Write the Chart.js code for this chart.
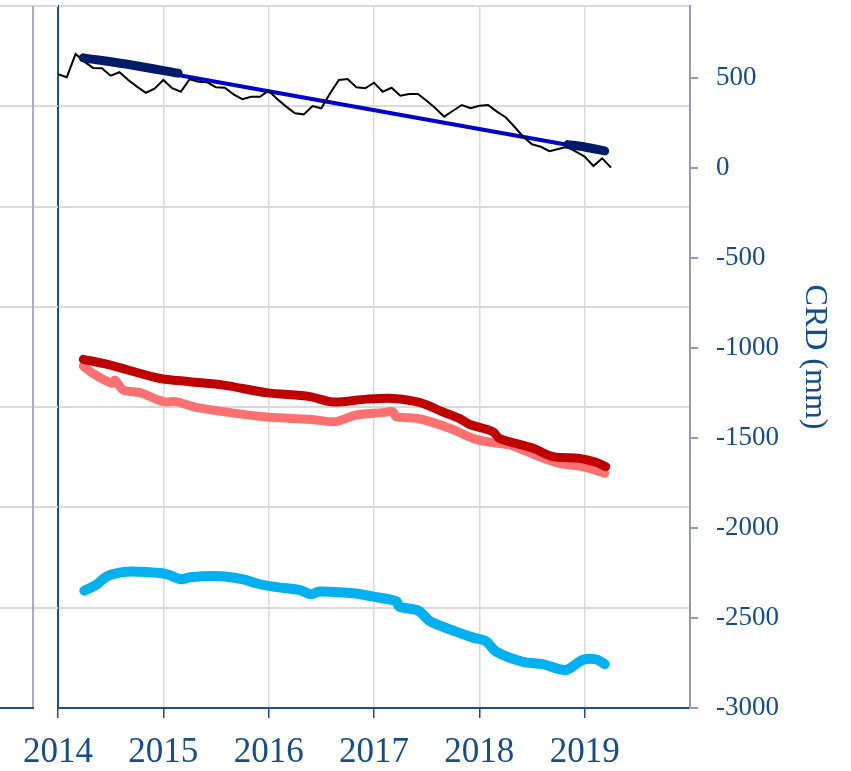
<!DOCTYPE html>
<html>
<head>
<meta charset="utf-8">
<script src="https://cdn.jsdelivr.net/npm/chart.js@4.4.1/dist/chart.umd.min.js"></script>
<style>
    html, body { margin: 0; padding: 0; background: #ffffff; }
    #wrap { width: 851px; height: 771px; }
</style>
</head>
<body>
<div id="wrap"><canvas id="crdChart" width="851" height="771"></canvas></div>
<script>
// ============================================
// CRD CHART DATA
// ============================================

// monthly series, first value = January 2014
const monthlyStart = 2014;
const monthlyValues = [521, 504, 633, 591, 556, 554, 513, 532, 489, 452,
    418, 441, 489, 443, 424, 493, 479, 476, 448, 446,
    409, 382, 396, 396, 429, 382, 341, 304, 298, 344,
    332, 415, 489, 494, 448, 443, 474, 424, 446, 402,
    411, 411, 374, 332, 285, 318, 350, 332, 346, 350,
    313, 282, 229, 174, 132, 118, 93, 106, 118, 91,
    63, 11, 54, 2];

// linear trend
const trendYears = [2014.24, 2019.19];
const trendValues = [611, 92];

// measured segments on the trend
const navyStartYears = [2014.24, 2014.7, 2015.14];
const navyStartValues = [612, 572, 527];
const navyEndYears = [2018.84, 2019.0, 2019.19];
const navyEndValues = [130, 117, 95];

const darkRedYears = [2014.24, 2014.49, 2014.96, 2015.25, 2015.57, 2015.98, 2016.39, 2016.61, 2016.93,
    2017.18, 2017.43, 2017.65, 2017.81, 2017.91, 2018.13, 2018.19, 2018.51, 2018.70, 2018.95, 2019.11, 2019.20];
const darkRedValues = [-1063, -1094, -1168, -1187, -1206, -1248, -1270, -1300, -1284,
    -1280, -1302, -1354, -1391, -1425, -1465, -1502, -1557, -1604, -1613, -1635, -1659];

const lightRedYears = [2014.24, 2014.33, 2014.51, 2014.54, 2014.62, 2014.78, 2015.00, 2015.12, 2015.31,
    2015.69, 2016.01, 2016.39, 2016.63, 2016.83, 2017.08, 2017.18, 2017.21, 2017.43, 2017.72,
    2017.94, 2018.13, 2018.29, 2018.57, 2018.76, 2018.98, 2019.19];
const lightRedValues = [-1100, -1141, -1196, -1178, -1233, -1248, -1298, -1298, -1330,
    -1363, -1385, -1396, -1409, -1372, -1359, -1354, -1381, -1393, -1446,
    -1502, -1526, -1539, -1604, -1641, -1659, -1696];

const lightBlueYears = [2014.25, 2014.36, 2014.47, 2014.65, 2014.87, 2015.03, 2015.17, 2015.25, 2015.50,
    2015.76, 2015.88, 2016.04, 2016.29, 2016.40, 2016.48, 2016.80, 2016.98, 2017.21, 2017.24,
    2017.42, 2017.53, 2017.78, 2017.94, 2018.06, 2018.16, 2018.41, 2018.60, 2018.82, 2018.98,
    2019.11, 2019.19];
const lightBlueValues = [-2348, -2317, -2267, -2243, -2246, -2256, -2285, -2274, -2267,
    -2285, -2307, -2326, -2344, -2368, -2353, -2363, -2380, -2406, -2437,
    -2459, -2517, -2576, -2609, -2628, -2687, -2743, -2756, -2789, -2733,
    -2730, -2756];

// axis ticks
const yearTicks = [2014, 2015, 2016, 2017, 2018, 2019];
const crdTicks = [-3000, -2500, -2000, -1500, -1000, -500, 0, 500];
const crdMin = -3000;
const crdMax = 900;
const gridRows = [0, 1, 2, 3, 4, 5, 6, 7];

const TEXT_BLUE = '#134d8b';
const AXIS_BLUE = '#1f4e8c';
const AXIS_GREY = '#8f9cbc';
const GRID_GREY = '#dadada';

function toPoints(xs, ys) {
    return xs.map((x, i) => ({ x: x, y: ys[i] }));
}

const monthlyPoints = monthlyValues.map((v, i) => ({ x: monthlyStart + i / 12, y: v }));

/**
 * Left panel fragment (cut off in the original figure)
 */
const leftFragment = {
    id: 'leftFragment',
    beforeDatasetsDraw(chart) {
        const ctx = chart.ctx;
        const area = chart.chartArea;
        const yL = chart.scales.yL;
        ctx.save();
        ctx.strokeStyle = GRID_GREY;
        ctx.lineWidth = 2;
        yL.ticks.forEach(t => {
            if (t.value === 0) return;
            const py = Math.round(yL.getPixelForValue(t.value));
            ctx.beginPath();
            ctx.moveTo(0, py);
            ctx.lineTo(area.left, py);
            ctx.stroke();
        });
        ctx.strokeStyle = '#a3aecb';
        ctx.beginPath();
        ctx.moveTo(33, area.top);
        ctx.lineTo(33, area.bottom);
        ctx.stroke();
        ctx.strokeStyle = AXIS_BLUE;
        ctx.beginPath();
        ctx.moveTo(0, area.bottom);
        ctx.lineTo(34, area.bottom);
        ctx.stroke();
        ctx.restore();
    }
};

function thickLine(points, color, width) {
    return {
        data: points,
        borderColor: color,
        backgroundColor: color,
        borderWidth: width,
        borderCapStyle: 'round',
        borderJoinStyle: 'round',
        pointRadius: 0,
        tension: 0.3,
        yAxisID: 'y'
    };
}

new Chart(document.getElementById('crdChart'), {
    type: 'line',
    data: {
        datasets: [
            thickLine(toPoints(navyStartYears, navyStartValues), '#001b66', 9),
            thickLine(toPoints(navyEndYears, navyEndValues), '#001b66', 9),
            {
                data: monthlyPoints,
                borderColor: '#000000',
                borderWidth: 2,
                pointRadius: 0,
                tension: 0,
                yAxisID: 'y'
            },
            {
                data: toPoints(trendYears, trendValues),
                borderColor: '#0000cc',
                borderWidth: 4,
                pointRadius: 0,
                tension: 0,
                yAxisID: 'y'
            },
            thickLine(toPoints(darkRedYears, darkRedValues), '#c00000', 9),
            thickLine(toPoints(lightRedYears, lightRedValues), '#ff7070', 9),
            thickLine(toPoints(lightBlueYears, lightBlueValues), '#00b0f0', 10)
        ]
    },
    options: {
        responsive: false,
        animation: false,
        layout: { padding: { left: 58, top: 6, right: 6, bottom: 0 } },
        plugins: {
            legend: { display: false },
            tooltip: { enabled: false }
        },
        scales: {
            x: {
                type: 'linear',
                min: 2014,
                max: 2020,
                afterBuildTicks: scale => {
                    scale.ticks = yearTicks.map(v => ({ value: v }));
                },
                afterFit: scale => {
                    scale.height = 63;
                },
                grid: {
                    color: GRID_GREY,
                    lineWidth: 1.5,
                    tickColor: AXIS_BLUE,
                    tickLength: 10
                },
                border: { color: AXIS_BLUE, width: 2 },
                ticks: {
                    color: TEXT_BLUE,
                    padding: 17,
                    maxRotation: 0,
                    font: { family: 'Liberation Serif', size: 35, lineHeight: 1 },
                    callback: v => String(v)
                }
            },
            yL: {
                type: 'linear',
                position: 'left',
                min: 0,
                max: 7,
                afterBuildTicks: scale => {
                    scale.ticks = gridRows.map(v => ({ value: v }));
                },
                ticks: { display: false },
                grid: { color: GRID_GREY, lineWidth: 2, drawTicks: false },
                border: { color: AXIS_BLUE, width: 2 }
            },
            y: {
                type: 'linear',
                position: 'right',
                min: crdMin,
                max: crdMax,
                afterBuildTicks: scale => {
                    scale.ticks = crdTicks.map(v => ({ value: v }));
                },
                afterFit: scale => {
                    scale.paddingTop = 0;
                    scale.paddingBottom = 0;
                    scale.width = 155;
                },
                ticks: {
                    color: TEXT_BLUE,
                    padding: 18,
                    font: { family: 'Liberation Serif', size: 27 },
                    callback: v => String(v)
                },
                grid: {
                    drawOnChartArea: false,
                    color: AXIS_GREY,
                    tickColor: AXIS_GREY,
                    tickLength: 8,
                    lineWidth: 2
                },
                border: { color: AXIS_GREY, width: 2 },
                title: {
                    display: true,
                    text: 'CRD (mm)',
                    color: TEXT_BLUE,
                    padding: { top: 11, bottom: 14 },
                    font: { family: 'Liberation Serif', size: 32 }
                }
            }
        }
    },
    plugins: [leftFragment]
});
</script>
</body>
</html>
